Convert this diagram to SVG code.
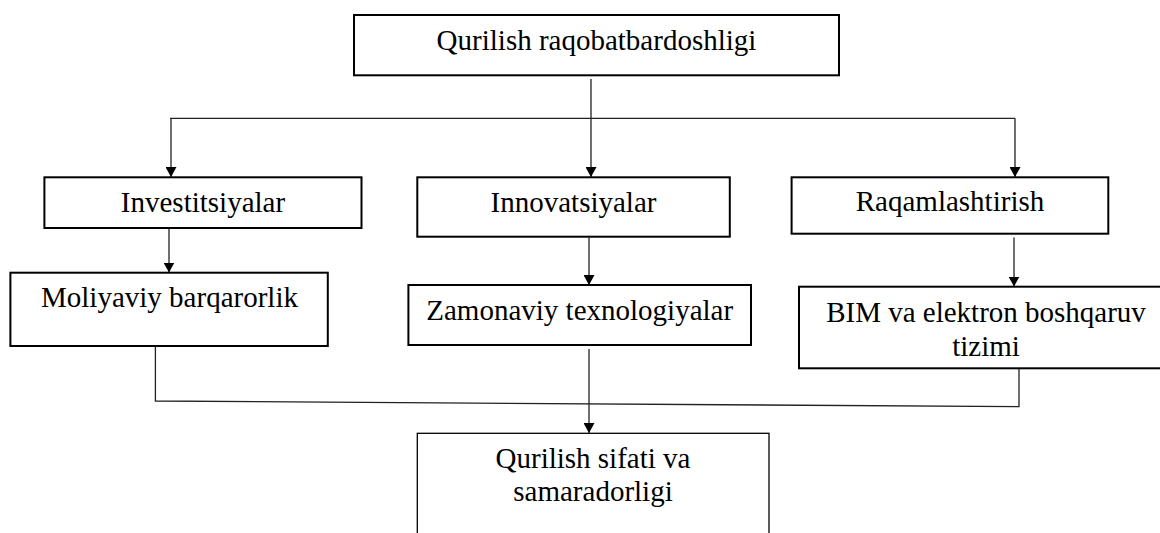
<svg xmlns="http://www.w3.org/2000/svg" width="1160" height="533" viewBox="0 0 1160 533">
<style>
.box{fill:#fff;stroke:#000;stroke-width:2}
.thin{fill:#fff;stroke:#000;stroke-width:1.3}
.t{font-family:"Liberation Serif","Times New Roman",serif;font-size:29px;fill:#000;text-anchor:middle}
.c{fill:none;stroke:#222;stroke-width:1.3}
</style>
<defs>
<marker id="ah" markerUnits="userSpaceOnUse" markerWidth="11" markerHeight="11" refX="10" refY="5.5" orient="auto">
<path d="M0,0 L10,5.5 L0,11 z" fill="#000"/>
</marker>
</defs>
<rect width="1160" height="533" fill="#fff"/>
<g id="connectors">
<path class="c" d="M591,79 V177" marker-end="url(#ah)"/>
<path class="c" d="M170,118.3 H1015"/>
<path class="c" d="M171,118.3 V177" marker-end="url(#ah)"/>
<path class="c" d="M1015,118.3 V177" marker-end="url(#ah)"/>
<path class="c" d="M169,229 V272.5" marker-end="url(#ah)"/>
<path class="c" d="M589,237.5 V285" marker-end="url(#ah)"/>
<path class="c" d="M1014,237.5 V286.5" marker-end="url(#ah)"/>
<path class="c" d="M155.4,346.5 V401 L1019,406.7 V369"/>
<path class="c" d="M589,349 V433" marker-end="url(#ah)"/>
</g>
<g id="n-top">
<rect class="box" x="354" y="15" width="485" height="60.3"/>
<text class="t" x="596.5" y="50">Qurilish raqobatbardoshligi</text>
</g>
<g id="n-invest">
<rect class="box" x="44.4" y="177.3" width="317.1" height="50.7"/>
<text class="t" x="203" y="211.7">Investitsiyalar</text>
</g>
<g id="n-innov">
<rect class="box" x="417.3" y="177.3" width="312.5" height="59.4"/>
<text class="t" x="573.5" y="211.7">Innovatsiyalar</text>
</g>
<g id="n-raqam">
<rect class="box" x="791.6" y="177.3" width="316.7" height="56.4"/>
<text class="t" x="950" y="211">Raqamlashtirish</text>
</g>
<g id="n-moliya">
<rect class="box" x="10.4" y="272.7" width="317.4" height="73.3"/>
<text class="t" x="169.5" y="307.3">Moliyaviy barqarorlik</text>
</g>
<g id="n-zamon">
<rect class="box" x="408.4" y="285" width="342.6" height="60"/>
<text class="t" x="579.7" y="320">Zamonaviy texnologiyalar</text>
</g>
<g id="n-bim">
<rect class="box" x="799" y="286.7" width="376" height="81.6"/>
<text class="t" x="986" y="321.7">BIM va elektron boshqaruv</text>
<text class="t" x="986" y="356">tizimi</text>
</g>
<g id="n-sifat">
<rect class="thin" x="417.3" y="433.3" width="351.7" height="130"/>
<text class="t" x="593" y="468.3">Qurilish sifati va</text>
<text class="t" x="593" y="500.5">samaradorligi</text>
</g>
</svg>
